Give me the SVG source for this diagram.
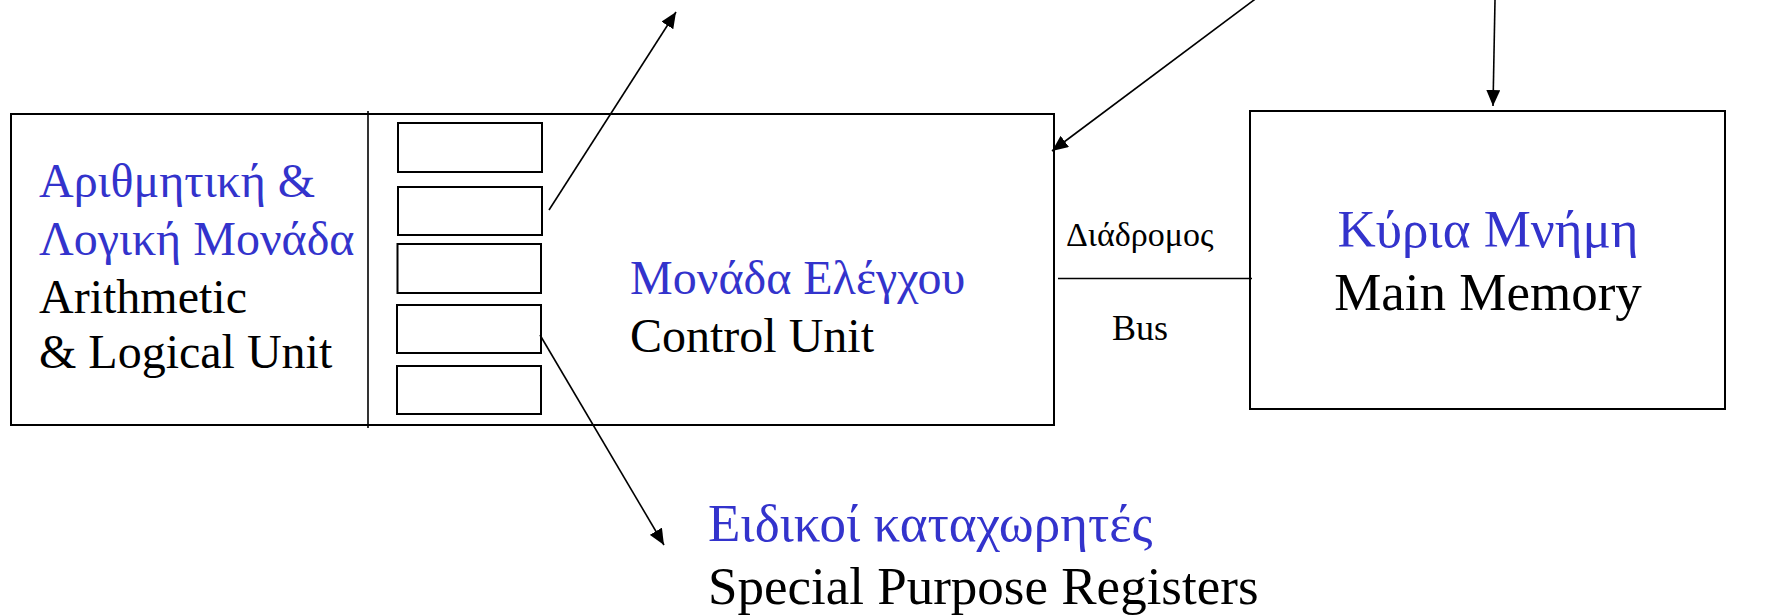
<svg xmlns="http://www.w3.org/2000/svg" width="1772" height="615" viewBox="0 0 1772 615">
  <style>
    .box { fill: #fff; stroke: #000; stroke-width: 2; }
    .reg { fill: #fff; stroke: #000; stroke-width: 2; }
    .line { fill: none; stroke: #000; stroke-width: 1.6; }
    text { font-family: 'Liberation Serif', 'DejaVu Serif', serif; }
    .gr { fill: #3333CC; }
    .en { fill: #000; }
  </style>
  <defs>
    <marker id="arrow" markerUnits="userSpaceOnUse" markerWidth="17" markerHeight="14" refX="16" refY="7" orient="auto">
      <path d="M0,0 L16,7 L0,14 z" fill="#000"/>
    </marker>
  </defs>
  <rect width="1772" height="615" fill="#fff"/>

  <!-- Processor: ALU + control unit -->
  <g id="cpu">
    <rect class="box" x="11" y="114" width="1043" height="311"/>
    <line class="line" x1="368" y1="111" x2="368" y2="428" stroke-width="2"/>
  </g>

  <g id="alu" font-family="Liberation Serif, DejaVu Serif, serif">
    <text class="gr" x="39" y="197" font-size="48">Αριθμητική &amp;</text>
    <text class="gr" x="39" y="255" font-size="48">Λογική Μονάδα</text>
    <text class="en" x="39" y="313" font-size="48">Arithmetic</text>
    <text class="en" x="39" y="368" font-size="48">&amp; Logical Unit</text>
  </g>

  <g id="registers">
    <rect class="reg" x="398" y="123" width="144" height="49"/>
    <rect class="reg" x="398" y="187" width="144" height="48"/>
    <rect class="reg" x="397.5" y="244" width="143.5" height="49"/>
    <rect class="reg" x="397" y="305" width="144" height="48"/>
    <rect class="reg" x="397" y="366" width="144" height="48"/>
  </g>

  <g id="control-unit" font-family="Liberation Serif, DejaVu Serif, serif">
    <text class="gr" x="630" y="294" font-size="48">Μονάδα Ελέγχου</text>
    <text class="en" x="630" y="352" font-size="48">Control Unit</text>
  </g>

  <g id="main-memory" font-family="Liberation Serif, DejaVu Serif, serif">
    <rect class="box" x="1250" y="111" width="475" height="298"/>
    <text class="gr" x="1488" y="247" font-size="53" text-anchor="middle">Κύρια Μνήμη</text>
    <text class="en" x="1488" y="310" font-size="53" text-anchor="middle">Main Memory</text>
  </g>

  <g id="special-registers" font-family="Liberation Serif, DejaVu Serif, serif">
    <text class="gr" x="708" y="541" font-size="53">Ειδικοί καταχωρητές</text>
    <text class="en" x="708" y="604" font-size="53">Special Purpose Registers</text>
  </g>

  <g id="bus-label" font-family="Liberation Serif, DejaVu Serif, serif">
    <text class="en" x="1066" y="246" font-size="34">Διάδρομος</text>
    <text class="en" x="1112" y="340" font-size="36">Bus</text>
  </g>

  <!-- Connectors -->
  <g id="connectors">
    <line class="line" x1="1058" y1="278.5" x2="1252" y2="278.5" stroke-width="2"/>
    <line class="line" x1="549" y1="210" x2="676" y2="12" marker-end="url(#arrow)"/>
    <line class="line" x1="1262" y1="-6" x2="1052" y2="151" marker-end="url(#arrow)"/>
    <line class="line" x1="1495" y1="0" x2="1493" y2="106" marker-end="url(#arrow)"/>
    <line class="line" x1="540" y1="335" x2="664" y2="545" marker-end="url(#arrow)"/>
  </g>
</svg>
